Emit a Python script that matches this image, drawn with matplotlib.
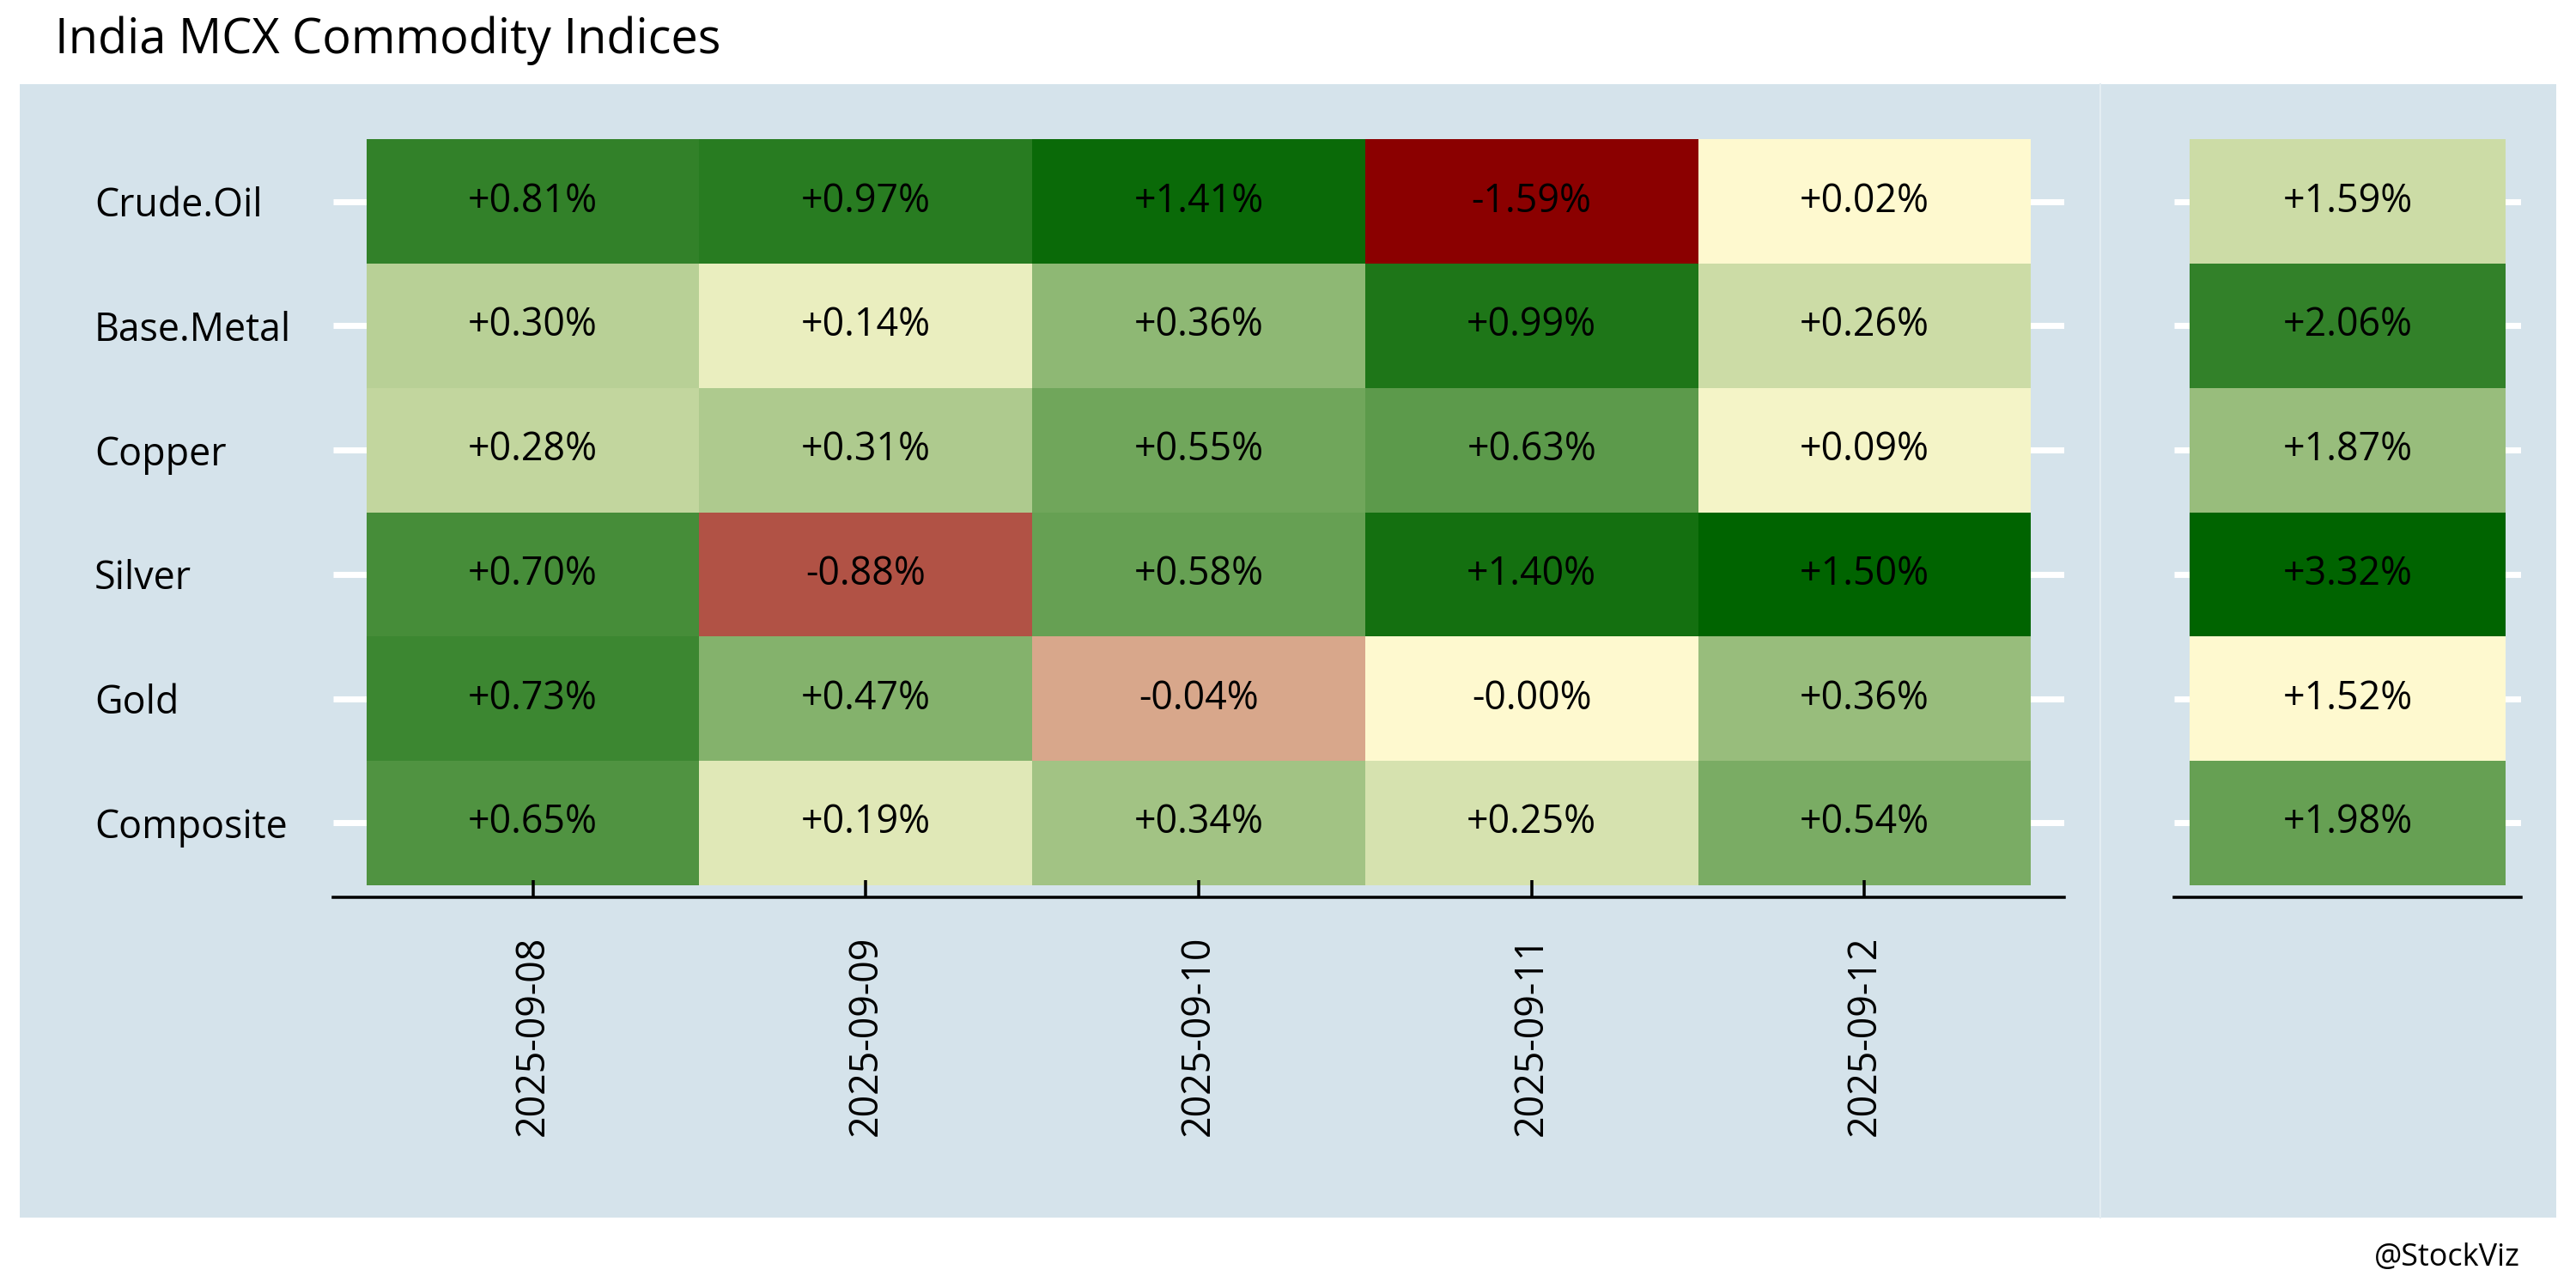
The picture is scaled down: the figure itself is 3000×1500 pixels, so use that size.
import numpy as np
import matplotlib
matplotlib.use("Agg")
import matplotlib.pyplot as plt
from matplotlib.colors import LinearSegmentedColormap, Normalize
from matplotlib.patches import Rectangle
from matplotlib.lines import Line2D

plt.rcParams['font.family'] = ['Open Sans', 'DejaVu Sans']

# data: daily % change per index, rows top to bottom
indices = ["Crude.Oil", "Base.Metal", "Copper", "Silver", "Gold", "Composite"]
dates = ["2025-09-08", "2025-09-09", "2025-09-10", "2025-09-11", "2025-09-12"]
crude_oil = [0.81, 0.97, 1.41, -1.59, 0.02]
base_metal = [0.30, 0.14, 0.364, 0.99, 0.26]
copper = [0.28, 0.31, 0.55, 0.63, 0.09]
silver = [0.70, -0.88, 0.58, 1.40, 1.50]
gold = [0.73, 0.47, -0.04, -0.001, 0.356]
composite = [0.65, 0.19, 0.34, 0.25, 0.54]
# week total % change
week_total = [1.59, 2.06, 1.87, 3.32, 1.52, 1.98]

BG = '#d5e3eb'
cmap = LinearSegmentedColormap.from_list('rg', ['#8b0000', '#fffad0', '#006400'])
norm = Normalize(-1, 1)


def rank_scale(vals):
    # negatives and positives each ranked separately onto [-1, 0] and [0, 1]
    vals = np.asarray(vals, dtype=float)
    out = np.zeros_like(vals)
    flat = vals.ravel()
    res = out.ravel()
    neg = np.where(flat < 0)[0]
    pos = np.where(flat >= 0)[0]
    if len(neg) > 1:
        order = neg[np.argsort(-flat[neg], kind='stable')]
        res[order] = -np.arange(len(order)) / (len(order) - 1)
    if len(pos) > 1:
        order = pos[np.argsort(flat[pos], kind='stable')]
        res[order] = np.arange(len(order)) / (len(order) - 1)
    return res.reshape(vals.shape)


def fmt(v):
    return f"{v:+.2f}%"


daily = np.array([crude_oil, base_metal, copper, silver, gold, composite])
weekly = np.array(week_total).reshape(-1, 1)

W, H = 3000, 1500
fig = plt.figure(figsize=(20, 10), dpi=150)
fig.patch.set_facecolor('white')

# panel backgrounds
fig.patches.append(Rectangle((23 / W, 1 - 1418 / H), (2977 - 23) / W, 1320 / H,
                             transform=fig.transFigure, facecolor=BG, edgecolor='none', zorder=-2))
fig.lines.append(Line2D([2446 / W, 2446 / W], [1 - 1418 / H, 1 - 98 / H],
                        transform=fig.transFigure, color='#e4edf2', lw=1.0, zorder=-1))

ax = fig.add_axes([388 / W, 1 - 1045 / H, 2016 / W, 897 / H])
ax2 = fig.add_axes([2532 / W, 1 - 1045 / H, 404 / W, 897 / H])


def draw(a, values, xlim):
    a.patch.set_visible(False)
    nr, nc = values.shape
    a.set_xlim(*xlim)
    a.set_ylim(nr - 0.4, -0.6)
    a.hlines(np.arange(nr), xlim[0], xlim[1], colors='white', lw=3.4, zorder=0.3)
    a.pcolormesh(np.arange(nc + 1) - 0.5, np.arange(nr + 1) - 0.5, rank_scale(values),
                 cmap=cmap, norm=norm, zorder=1)
    for i in range(nr):
        for j in range(nc):
            a.text(j, i, fmt(values[i, j]), ha='center', va='center',
                   fontsize=21.5, color='black', zorder=3)
    for s in ['top', 'left', 'right']:
        a.spines[s].set_visible(False)
    a.spines['bottom'].set_linewidth(1.7)
    a.spines['bottom'].set_color('black')


draw(ax, daily, (-0.6, 4.6))
draw(ax2, weekly, (-0.55, 0.55))

ax.set_xticks(range(len(dates)))
ax.set_xticklabels(dates, rotation=90, fontsize=21.5, va='top', ha='center')
ax.tick_params(axis='x', direction='in', length=9.6, width=1.7, color='black', pad=21.5)
ax.set_yticks(range(len(indices)))
ax.set_yticklabels(indices, fontsize=21.5, ha='left')
ax.tick_params(axis='y', length=0, pad=133.4)

ax2.set_xticks([])
ax2.set_yticks([])

fig.text(64 / W, 1 - 62 / H, "India MCX Commodity Indices", fontsize=26.8,
         ha='left', va='baseline')
fig.text(2935 / W, 1 - 1465 / H, "@StockViz", fontsize=17.3, ha='right', va='center')

fig.savefig("out.png", dpi=150, facecolor='white')
